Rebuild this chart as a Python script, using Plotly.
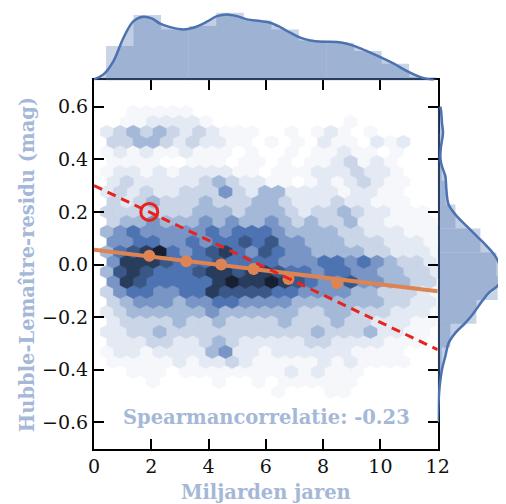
import colorsys
import plotly.graph_objects as go

# ---------------- data ----------------
# Hexbin density levels (0 = empty, 1 = faintest ... 9 = darkest), one string per hex row, top row first
hex_rows = [
    "00111110000000000000000000",
    "01122221000000000010000000",
    "23434323211100101210100000",
    "33443232211010102110212000",
    "12121121110100101121101000",
    "11110011101101011231210000",
    "12212122221101112223221000",
    "23222223432211012123211000",
    "23232233353244222212211000",
    "32343334333443222322111000",
    "33333334443444323343221110",
    "34454445454454343342211110",
    "45655555656665444433222111",
    "55665565667675544433322210",
    "46789656786576554444332221",
    "58887666766665556656543320",
    "47876667887887665665544332",
    "58766666898898765575544330",
    "35665566877776655554433321",
    "34555455665555444444433220",
    "23444444544444433443332221",
    "23333433433334333433222110",
    "22334333333333334333422110",
    "22233223432222233222211100",
    "12212222452212222221111000",
    "11111212232111112121111000",
    "00111011111111212111000000",
    "00010000100101111110000000",
    "00000000000001000110000000",
]

# top marginal: histogram of ages (Gyr) and its KDE
age_bin_left = [0.42, 1.38, 2.34, 3.31, 4.27, 5.23, 6.19, 7.15, 8.12, 9.08, 10.04, 11.00]
age_bin_width = 0.962
age_hist = [34.3, 65.3, 51.0, 54.3, 67.7, 60.0, 51.0, 40.0, 37.7, 29.3, 16.7, 3.3]
age_kde_x = [0.0, 0.33, 0.68, 1.03, 1.38, 1.72, 2.02, 2.31, 2.66, 3.12, 3.47, 3.94, 4.29, 4.64, 4.99,
             5.34, 5.80, 6.15, 6.50, 6.85, 7.20, 7.55, 8.02, 8.49, 8.84, 9.19, 9.53, 10.0, 10.47,
             10.93, 11.4, 11.86]
age_kde = [1.0, 6.0, 19.3, 42.7, 59.3, 63.7, 62.0, 56.7, 53.3, 51.0, 52.7, 58.7, 64.3, 66.0, 64.3,
           61.0, 59.3, 57.7, 53.3, 47.7, 42.7, 40.0, 38.7, 38.3, 36.7, 33.3, 29.3, 23.3, 16.7,
           9.3, 3.3, 0.3]

# right marginal: histogram of Hubble residuals (mag) and its KDE
res_bin_center = [0.545, 0.454, 0.364, 0.273, 0.183, 0.092, 0.0005, -0.090, -0.180, -0.270, -0.361, -0.451, -0.542]
res_bin_width = 0.0905
res_hist = [1.5, 2.5, 4.0, 8.0, 17.7, 42.7, 58.7, 60.0, 38.7, 12.7, 4.0, 2.0, 1.0]
res_kde_y = [0.60, 0.587, 0.538, 0.500, 0.448, 0.404, 0.373, 0.335, 0.284, 0.227, 0.183, 0.145, 0.107,
             0.069, 0.031, -0.007, -0.038, -0.058, -0.083, -0.108, -0.140, -0.184, -0.222, -0.260,
             -0.298, -0.348, -0.399, -0.462, -0.513, -0.60]
res_kde = [2.5, 3.3, 4.3, 5.3, 3.3, 2.7, 4.3, 7.7, 8.7, 11.0, 19.3, 29.3, 39.3, 49.3, 57.7, 62.7,
           65.3, 64.3, 59.3, 51.0, 44.3, 36.0, 27.7, 17.7, 11.0, 7.7, 4.3, 2.0, 1.0, 0.3]

# fitted trend (orange), binned means (orange dots), alternative slope (red dashed), highlighted point
fit_x = [0.0, 12.0]
fit_y = [0.056, -0.102]
bin_x = [1.93, 3.22, 4.44, 5.57, 6.79, 8.48]
bin_y = [0.033, 0.012, 0.0, -0.017, -0.055, -0.070]
alt_x = [0.0, 12.0]
alt_y = [0.300, -0.324]
hl_x = [1.93]
hl_y = [0.20]

x_ticks = [0, 2, 4, 6, 8, 10, 12]
y_ticks = [-0.6, -0.4, -0.2, 0.0, 0.2, 0.4, 0.6]

# ---------------- styling ----------------
BLUE = "#4c72b0"
ORANGE = "#dd8452"
RED = "#e8231c"
TITLE_BLUE = "#a5b8d7"
TICK_FONT = dict(family="DejaVu Serif", size=19, color="#111111")
TITLE_FONT = dict(family="DejaVu Serif", size=19.5, color=TITLE_BLUE)

HEX_X0, HEX_DX = 0.45, 0.46
HEX_Y0, HEX_DY = 0.58, 0.038
h, _, s = colorsys.rgb_to_hls(76 / 255, 114 / 255, 176 / 255)
level_light = [0.972, 0.925, 0.85, 0.745, 0.62, 0.50, 0.38, 0.26, 0.14]


def level_color(L):
    r, g, b = colorsys.hls_to_rgb(h, level_light[L - 1], s)
    return "rgb(%d,%d,%d)" % (round(r * 255), round(g * 255), round(b * 255))


fig = go.Figure()

# hexbin cells
sy = 2 * HEX_DY
for L in range(1, 10):
    xs, ys = [], []
    for j, row in enumerate(hex_rows):
        cy = HEX_Y0 - j * HEX_DY
        off = 0 if j % 2 == 0 else HEX_DX / 2
        for i, ch in enumerate(row):
            if int(ch) != L:
                continue
            cx = HEX_X0 + off + i * HEX_DX
            pts = [(0.5, -1 / 6), (0.5, 1 / 6), (0, 1 / 3), (-0.5, 1 / 6), (-0.5, -1 / 6), (0, -1 / 3), (0.5, -1 / 6)]
            for px, py in pts:
                xs.append(cx + px * HEX_DX)
                ys.append(cy + py * sy)
            xs.append(None)
            ys.append(None)
    col = level_color(L)
    fig.add_trace(go.Scatter(x=xs, y=ys, mode="lines", fill="toself", fillcolor=col,
                             line=dict(color=col, width=0.6), hoverinfo="skip", showlegend=False))

# lines and points
fig.add_trace(go.Scatter(x=fit_x, y=fit_y, mode="lines", line=dict(color=ORANGE, width=4), showlegend=False))
fig.add_trace(go.Scatter(x=bin_x, y=bin_y, mode="markers", marker=dict(color=ORANGE, size=12), showlegend=False))
fig.add_trace(go.Scatter(x=alt_x, y=alt_y, mode="lines", line=dict(color=RED, width=3, dash="9px,6px"), showlegend=False))
fig.add_trace(go.Scatter(x=hl_x, y=hl_y, mode="markers",
                         marker=dict(symbol="circle-open", size=17, color=RED, line=dict(width=3, color=RED)),
                         showlegend=False))

# top marginal
fig.add_trace(go.Bar(x=[b + age_bin_width / 2 for b in age_bin_left], y=age_hist, width=age_bin_width,
                     marker=dict(color="rgba(76,114,176,0.30)", line=dict(width=0)),
                     xaxis="x2", yaxis="y2", showlegend=False))
fig.add_trace(go.Scatter(x=age_kde_x, y=age_kde, mode="lines", fill="tozeroy",
                         fillcolor="rgba(76,114,176,0.35)", line=dict(color=BLUE, width=2.5, shape="spline"),
                         xaxis="x2", yaxis="y2", showlegend=False))

# right marginal
fig.add_trace(go.Bar(y=res_bin_center, x=res_hist, width=res_bin_width, orientation="h",
                     marker=dict(color="rgba(76,114,176,0.30)", line=dict(width=0)),
                     xaxis="x3", yaxis="y3", showlegend=False))
fig.add_trace(go.Scatter(x=res_kde, y=res_kde_y, mode="lines", fill="tozerox",
                         fillcolor="rgba(76,114,176,0.35)", line=dict(color=BLUE, width=2.5, shape="spline"),
                         xaxis="x3", yaxis="y3", showlegend=False))

# the page body adds an 8px offset; domains are set so the plot lands where the reference has it
X_DOM = [86 / 506, 429.7 / 506]
Y_DOM = [(504 - 440.6) / 504, (504 - 72.4) / 504]

axis_common = dict(showline=True, linecolor="black", linewidth=2, mirror="allticks", ticks="inside",
                   ticklen=10, tickwidth=2, tickcolor="black", showgrid=False, zeroline=False,
                   tickfont=TICK_FONT, automargin=False)

fig.update_layout(
    width=506, height=504, margin=dict(l=0, r=0, t=0, b=0),
    paper_bgcolor="white", plot_bgcolor="white",
    xaxis=dict(domain=X_DOM, range=[0, 12], tickvals=x_ticks, ticktext=[str(v) for v in x_ticks],
               title=dict(text="<b>Miljarden jaren</b>", font=TITLE_FONT, standoff=9), **axis_common),
    yaxis=dict(domain=Y_DOM, range=[-0.7, 0.7], tickvals=y_ticks, tickformat=".1f",
               title=dict(text="<b>Hubble-Lemaître-residu (mag)</b>", font=TITLE_FONT, standoff=2), **axis_common),
    xaxis2=dict(domain=X_DOM, range=[0, 12], anchor="y2", visible=False),
    yaxis2=dict(domain=[Y_DOM[1], 1.0], range=[0, 72.4], anchor="x2", visible=False),
    xaxis3=dict(domain=[429.7 / 506, 1.0], range=[0, 76.3], anchor="y3", visible=False),
    yaxis3=dict(domain=Y_DOM, range=[-0.7, 0.7], anchor="x3", visible=False),
    barmode="overlay",
    annotations=[dict(x=6.03, y=-0.583, xref="x", yref="y", text="<b>Spearmancorrelatie: -0.23</b>",
                      showarrow=False, font=dict(family="DejaVu Serif", size=19.5, color=TITLE_BLUE),
                      xanchor="center", yanchor="middle")],
)

fig.write_html("out.html")
